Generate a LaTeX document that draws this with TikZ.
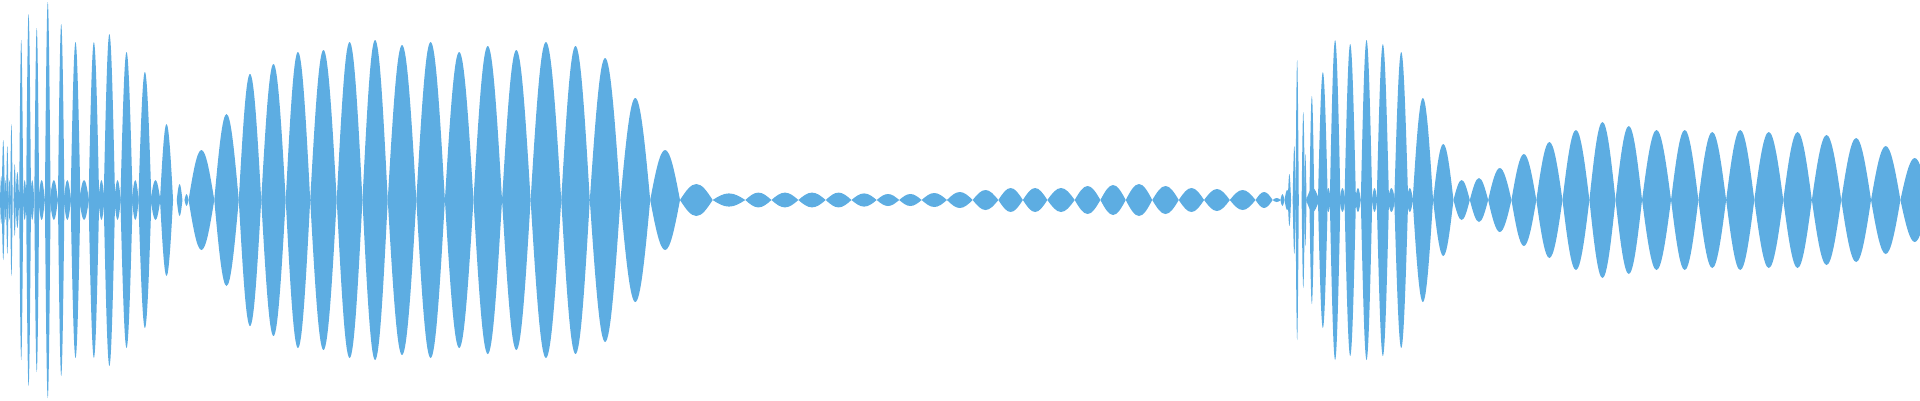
\documentclass[tikz,border=0pt]{standalone}
\definecolor{wave}{RGB}{93,173,226}
\newcommand\wlobe[3]{%
\pgfmathsetmacro\hh{(#2-#1)/2}%
\fill[wave] (#1,0) .. controls ({#1+0.35*\hh},{0.55*#3}) and ({#1+0.65*\hh},#3) .. ({#1+\hh},#3)
 .. controls ({#2-0.65*\hh},#3) and ({#2-0.35*\hh},{0.55*#3}) .. (#2,0)
 .. controls ({#2-0.35*\hh},{-0.55*#3}) and ({#2-0.65*\hh},-#3) .. ({#1+\hh},-#3)
 .. controls ({#1+0.65*\hh},-#3) and ({#1+0.35*\hh},{-0.55*#3}) .. cycle;}
\begin{document}
\begin{tikzpicture}[x=0.40816pt,y=200pt]
\useasboundingbox (0,-1) rectangle (4704,1);
\clip (0,-1) rectangle (4704,1);
\foreach \xa/\xb/\a in {
% left dense part: small in-between lobes
0/6/.12, 10/16/.1, 20/26/.1, 38/47/.14, 56/65/.1, 74/84/.1, 94/110/.1, 122/142/.1, 156/174/.1, 194/218/.1, 241/256/.1, 280/296/.1, 323/340/.1, 369/393/.1,
% left spikes
4/12/.3, 15/21/.27, 25/31/.38, 33/39/.18, 47/57/.8, 64/76/.93, 84/96/.86, 110/124/.99, 142/158/.88, 173/197/.79, 217/243/.79, 254/282/.83, 295/325/.74, 339/371/.64, 392/424/.38, 433/447/.08, 452/462/.03,
462/525/.25, 525/585/.43, 585/640/.63, 640/700/.68, 700/760/.74, 760/825/.75, 825/888/.79, 888/950/.80, 950/1020/.775, 1020/1090/.79, 1090/1160/.74, 1160/1230/.77, 1230/1300/.75, 1300/1375/.79, 1375/1445/.77, 1445/1520/.71, 1520/1593/.51,
1593/1666/.25, 1666/1746/.08, 1746/1826/.033, 1826/1890/.037, 1890/1956/.037, 1956/2023/.037, 2023/2086/.037, 2086/2148/.033, 2148/2203/.03, 2203/2258/.03, 2258/2320/.035, 2320/2383/.04, 2383/2446/.05, 2446/2506/.06, 2506/2566/.06, 2566/2633/.06, 2633/2696/.07, 2696/2758/.075, 2758/2823/.08, 2823/2888/.07, 2888/2950/.06, 2950/3013/.055, 3013/3076/.05, 3076/3118/.04, 3118/3138/.01,
% right dense part
3137/3147/.03, 3147/3160/.05, 3200/3232/.06, 3249/3260/.06, 3282/3296/.06, 3320/3334/.06, 3361/3374/.06, 3400/3418/.06, 3446/3462/.06,
3155/3163/.13, 3167/3175/.27, 3174/3182/.7, 3189/3197/.44, 3195/3201/.23, 3208/3220/.52, 3229/3253/.64, 3258/3284/.8, 3294/3322/.78, 3334/3362/.8, 3373/3403/.78, 3416/3450/.74,
3461/3511/.51, 3511/3561/.28, 3561/3601/.10, 3601/3646/.11, 3646/3703/.16, 3703/3764/.23, 3764/3828/.29, 3828/3894/.35, 3894/3958/.39, 3958/4023/.37, 4023/4094/.35, 4094/4161/.35, 4161/4229/.34, 4229/4298/.35, 4298/4369/.34, 4369/4439/.34, 4439/4511/.325, 4511/4584/.31, 4584/4656/.27, 4656/4726/.21}
{\wlobe{\xa}{\xb}{\a}}
\end{tikzpicture}
\end{document}
